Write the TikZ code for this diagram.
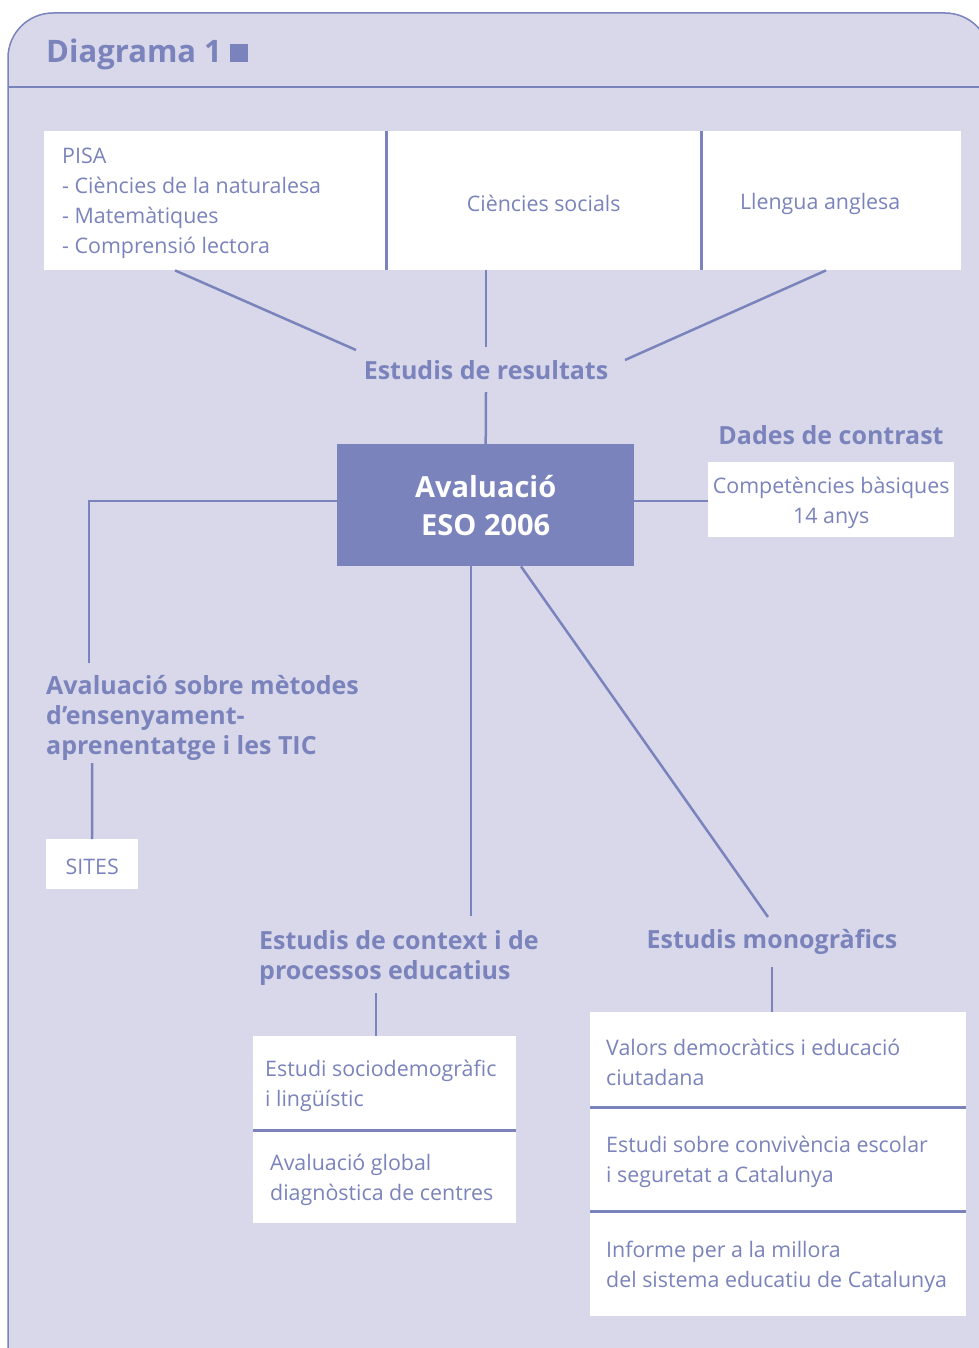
\documentclass[tikz,border=0pt]{standalone}
\usepackage{fontspec}
\setmainfont{Open Sans}
\usetikzlibrary{calc}
\definecolor{bg}{RGB}{217,216,234}
\definecolor{ink}{RGB}{122,131,187}
\begin{document}
\begin{tikzpicture}[x=1pt,y=-1pt,
  conn/.style={draw=ink, line width=2.5pt},
  divline/.style={draw=ink, line width=3pt},
  wbox/.style={fill=white, draw=none, inner sep=0pt, anchor=north west},
  body/.style={text=ink, font=\fontsize{21.4}{30}\selectfont, inner sep=0pt, align=left, yshift=-3pt},
  head/.style={text=ink, font=\bfseries\fontsize{25}{30}\selectfont, inner sep=0pt, align=left},
]
\useasboundingbox (0,0) rectangle (978,1348);
\fill[white] (0,0) rectangle (978,1348);
% panel
\draw[ink, line width=1.5pt, fill=bg, rounded corners=45pt] (8,1420) -- (8,13) -- (990,13) -- (990,1420);
\draw[ink, line width=1.5pt] (8,87) -- (990,87);
% title
\node[head, font=\bfseries\fontsize{31}{36}\selectfont, anchor=west] (title) at (46,54) {Diagrama 1};
\node[fill=ink, minimum size=18pt, inner sep=0pt] (sq) at (239,53) {};

% top boxes
\node[wbox, minimum width=342pt, minimum height=139pt] (pisa) at (44,131) {};
\node[wbox, minimum width=315pt, minimum height=139pt] (soc) at (386,131) {};
\node[wbox, minimum width=260pt, minimum height=139pt] (ang) at (701,131) {};
\draw[conn] (pisa.north east) -- (pisa.south east);
\draw[conn] (soc.north east) -- (soc.south east);
\node[body, anchor=west] (tpisa) at ($(pisa.west)+(18,0)$) {PISA\\- Ciències de la naturalesa\\- Matemàtiques\\- Comprensió lectora};
\node[body] (tsoc) at (soc.center) {Ciències socials};
\node[body] (tang) at ($(ang.center)+(-11,0)$) {Llengua anglesa};

% estudis de resultats
\node[head] (res) at (486,370) {Estudis de resultats};
\draw[conn] ($(pisa.south west)+(131,0)$) -- ($(res.center)+(-130,-20)$);
\draw[conn] (soc.south -| res.center) -- ($(res.center)+(0,-23)$);
\draw[conn] ($(ang.south west)+(125,0)$) -- ($(res.center)+(139,-10)$);

% central box
\node[fill=ink, text=white, font=\bfseries\fontsize{29}{38}\selectfont, align=center,
      minimum width=297pt, minimum height=122pt, inner sep=0pt, anchor=north west] (av) at (337,444) {Avaluació\\ESO 2006};
\draw[conn] ($(res.center)+(0,22)$) -- (av.north);

% dades de contrast
\node[head] (dades) at (831,435) {Dades de contrast};
\node[wbox, minimum width=246pt, minimum height=75pt] (comp) at (708,462) {};
\node[body, align=center] (tcomp) at (comp.center) {Competències bàsiques\\14 anys};
\draw[conn] ($(av.east)+(0,-4)$) -- ($(comp.west)+(0,1.5)$);

% metodes
\node[head, anchor=west] (met) at (46,718) {Avaluació sobre mètodes\\d’ensenyament-\\aprenentatge i les TIC};
\coordinate (mettop) at (89,663);
\draw[conn] ($(av.west)+(0,-4)$) -| (mettop);
\node[wbox, minimum width=92pt, minimum height=50pt] (sites) at (46,839) {};
\node[body] (tsites) at (sites.center) {SITES};
\coordinate (metbot) at (92,763);
\draw[conn] (metbot) -- (sites.north);

% context
\node[head, anchor=west] (ctx) at (259,958) {Estudis de context i de\\processos educatius};
\coordinate (ctxtop) at (471,916);
\draw[conn] ($(av.south west)+(134,0)$) -- (ctxtop);
\node[wbox, minimum width=263pt, minimum height=94pt] (sd) at (253,1036) {};
\node[wbox, minimum width=263pt, minimum height=93pt] (gl) at (253,1130) {};
\draw[divline] (sd.south west) -- (sd.south east);
\node[body, anchor=west] (tsd) at ($(sd.west)+(12,0)$) {Estudi sociodemogràfic\\i lingüístic};
\node[body, anchor=west] (tgl) at ($(gl.west)+(17,0)$) {Avaluació global\\diagnòstica de centres};
\coordinate (ctxbot) at (376,993);
\draw[conn] (ctxbot) -- (ctxbot |- sd.north);

% monografics
\node[head] (mono) at (772,942) {Estudis monogràfics};
\coordinate (monotop) at (768,917);
\draw[conn] ($(av.south west)+(184,0)$) -- (monotop);
\node[wbox, minimum width=376pt, minimum height=95pt] (val) at (590,1012) {};
\node[wbox, minimum width=376pt, minimum height=104pt] (conv) at (590,1107) {};
\node[wbox, minimum width=376pt, minimum height=105pt] (inf) at (590,1211) {};
\draw[divline] (val.south west) -- (val.south east);
\draw[divline] (conv.south west) -- (conv.south east);
\node[body, anchor=west] (tval) at ($(val.west)+(16,0)$) {Valors democràtics i educació\\ciutadana};
\node[body, anchor=west] (tconv) at ($(conv.west)+(16,0)$) {Estudi sobre convivència escolar\\i seguretat a Catalunya};
\node[body, anchor=west] (tinf) at ($(inf.west)+(16,0)$) {Informe per a la millora\\del sistema educatiu de Catalunya};
\coordinate (monobot) at (772,967);
\draw[conn] (monobot) -- (monobot |- val.north);
\end{tikzpicture}
\end{document}
